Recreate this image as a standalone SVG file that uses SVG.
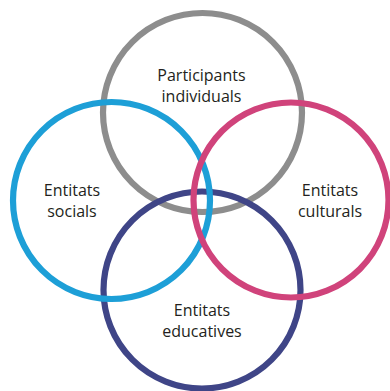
<svg xmlns="http://www.w3.org/2000/svg" width="390" height="391" viewBox="0 0 390 391">
  <style>
    .ring { fill: none; stroke-width: 6.2; }
    .label { font-family: "Open Sans", "Noto Sans", sans-serif; font-size: 16px; fill: #231f20; text-anchor: middle; }
  </style>
  <rect width="390" height="391" fill="#ffffff"/>
  <!-- Rings: grey and navy underneath, blue and pink on top -->
  <g id="participants">
    <circle class="ring" cx="202.5" cy="112.5" r="99.5" stroke="#8d8d8d"/>
  </g>
  <g id="educatives">
    <circle class="ring" cx="202" cy="290" r="98.5" stroke="#3f4587"/>
  </g>
  <g id="socials">
    <circle class="ring" cx="111.5" cy="200.5" r="98.5" stroke="#1d9fd7"/>
  </g>
  <g id="culturals">
    <circle class="ring" cx="291" cy="200" r="97.5" stroke="#d0437b"/>
  </g>
  <g id="labels">
    <text class="label" x="201.5" y="81">Participants</text>
    <text class="label" x="201.5" y="102">individuals</text>
    <text class="label" x="72" y="196">Entitats</text>
    <text class="label" x="72" y="217">socials</text>
    <text class="label" x="330" y="196">Entitats</text>
    <text class="label" x="330" y="217">culturals</text>
    <text class="label" x="202" y="316">Entitats</text>
    <text class="label" x="202" y="337">educatives</text>
  </g>
</svg>
